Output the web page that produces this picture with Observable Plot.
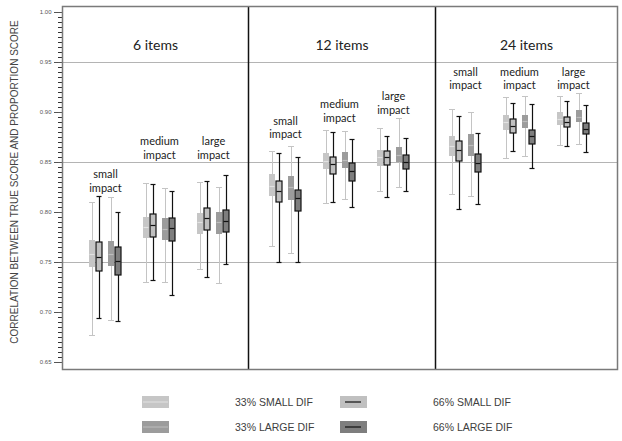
<!DOCTYPE html>
<html>
<head>
<meta charset="utf-8">
<script src="https://cdn.jsdelivr.net/npm/d3@7"></script>
<script src="https://cdn.jsdelivr.net/npm/@observablehq/plot@0.6"></script>
<style>
  html, body { margin: 0; padding: 0; background: white; overflow: hidden; }
  #chart { width: 622px; height: 380px; }
  #legend { position: relative; width: 622px; height: 61px; font-family: "Liberation Sans", Arial, sans-serif; font-size: 10.5px; color: #404040; }
  #legend .sw { position: absolute; }
  #legend .lb { position: absolute; line-height: 12px; white-space: nowrap; }
</style>
</head>
<body>
<div id="chart"></div>
<div id="legend"></div>
<script>
// ---- data ----
const items = ["6 items", "12 items", "24 items"];
const impacts = ["small", "medium", "large"];
const seriesNames = ["33% SMALL DIF", "66% SMALL DIF", "33% LARGE DIF", "66% LARGE DIF"];
const yTicks = [0.65, 0.70, 0.75, 0.80, 0.85, 0.90, 0.95, 1.00];
const gridLines = [0.75, 0.85, 0.95];
const yTitle = "CORRELATION BETWEEN TRUE SCORE AND PROPORTION SCORE";

// each entry: [lower whisker, Q1, median, Q3, upper whisker]
// order: 6 small, 6 medium, 6 large, 12 small, 12 medium, 12 large, 24 small, 24 medium, 24 large
const s33small = [
  [0.677, 0.745, 0.758, 0.772, 0.810],
  [0.730, 0.774, 0.785, 0.795, 0.829],
  [0.743, 0.778, 0.790, 0.799, 0.830],
  [0.766, 0.816, 0.826, 0.838, 0.861],
  [0.809, 0.843, 0.851, 0.859, 0.882],
  [0.821, 0.846, 0.855, 0.862, 0.884],
  [0.818, 0.856, 0.866, 0.876, 0.903],
  [0.854, 0.882, 0.890, 0.897, 0.915],
  [0.867, 0.887, 0.893, 0.900, 0.916]
];
const s66small = [
  [0.694, 0.741, 0.755, 0.770, 0.816],
  [0.732, 0.775, 0.787, 0.798, 0.828],
  [0.735, 0.782, 0.794, 0.804, 0.831],
  [0.750, 0.810, 0.821, 0.831, 0.859],
  [0.810, 0.838, 0.848, 0.855, 0.880],
  [0.815, 0.847, 0.855, 0.861, 0.876],
  [0.803, 0.851, 0.862, 0.871, 0.896],
  [0.861, 0.879, 0.886, 0.893, 0.909],
  [0.866, 0.885, 0.890, 0.895, 0.911]
];
const s33large = [
  [0.692, 0.746, 0.758, 0.771, 0.815],
  [0.730, 0.772, 0.783, 0.794, 0.824],
  [0.729, 0.778, 0.790, 0.800, 0.825],
  [0.759, 0.812, 0.825, 0.836, 0.866],
  [0.813, 0.844, 0.852, 0.860, 0.881],
  [0.825, 0.850, 0.857, 0.865, 0.894],
  [0.816, 0.856, 0.867, 0.878, 0.900],
  [0.856, 0.884, 0.891, 0.897, 0.916],
  [0.868, 0.890, 0.895, 0.902, 0.919]
];
const s66large = [
  [0.691, 0.737, 0.751, 0.765, 0.800],
  [0.717, 0.771, 0.784, 0.794, 0.821],
  [0.748, 0.780, 0.791, 0.802, 0.837],
  [0.750, 0.801, 0.814, 0.822, 0.855],
  [0.805, 0.831, 0.841, 0.849, 0.873],
  [0.821, 0.843, 0.850, 0.857, 0.874],
  [0.808, 0.840, 0.849, 0.858, 0.879],
  [0.844, 0.868, 0.876, 0.882, 0.908],
  [0.860, 0.878, 0.883, 0.889, 0.907]
];
// vertical position (value units) of each "impact" label, same order as above
const labelY = [0.832, 0.865, 0.865, 0.8855, 0.902, 0.910, 0.9345, 0.9345, 0.9345];

// ---- layout & styles ----
const seriesData = [s33small, s66small, s33large, s66large];
const panelBounds = [0, 186, 373, 555];
const groupStart = 30, panelStep = 180, impactStep = 54;
const offsets = [0, 7, 19, 26];
const styles = [
  {fill: "#c6c6c6", stroke: null,   med: "#e2e2e2", whisk: "#c4c4c4", sw: 1,   cap: 3},
  {fill: "#c0c0c0", stroke: "#111", med: "#111",    whisk: "#111",    sw: 1.2, cap: 2.5},
  {fill: "#9c9c9c", stroke: null,   med: "#bdbdbd", whisk: "#c4c4c4", sw: 1,   cap: 3},
  {fill: "#7e7e7e", stroke: "#111", med: "#111",    whisk: "#111",    sw: 1.2, cap: 2.5}
];
const half = 3;

const rows = [];
items.forEach((it, p) => impacts.forEach((im, i) => seriesData.forEach((arr, k) => {
  const v = arr[p * 3 + i];
  rows.push({p, i, k, pos: groupStart + p * panelStep + i * impactStep + offsets[k],
             lo: v[0], q1: v[1], med: v[2], q3: v[3], hi: v[4]});
})));
const labels = [];
items.forEach((it, p) => impacts.forEach((im, i) => {
  labels.push({text: im + "\nimpact", x: groupStart + p * panelStep + i * impactStep + (offsets[0] + offsets[3]) / 2, y: labelY[p * 3 + i]});
}));
const panelCenters = items.map((d, j) => (panelBounds[j] + panelBounds[j + 1]) / 2);
const minorTicks = d3.range(0, 71).map(j => 0.65 + j * 0.005);

const boxMarks = [];
styles.forEach((st, k) => {
  const data = rows.filter(r => r.k === k);
  boxMarks.push(
    Plot.ruleX(data, {x: "pos", y1: "lo", y2: "hi", stroke: st.whisk, strokeWidth: st.sw}),
    Plot.ruleY(data, {y: "hi", x1: d => d.pos - st.cap, x2: d => d.pos + st.cap, stroke: st.whisk, strokeWidth: st.sw}),
    Plot.ruleY(data, {y: "lo", x1: d => d.pos - st.cap, x2: d => d.pos + st.cap, stroke: st.whisk, strokeWidth: st.sw}),
    Plot.rect(data, {x1: d => d.pos - half, x2: d => d.pos + half, y1: "q1", y2: "q3", fill: st.fill,
                     stroke: st.stroke || "none", strokeWidth: 1.2}),
    Plot.ruleY(data, {y: "med", x1: d => d.pos - half + 0.5, x2: d => d.pos + half - 0.5, stroke: st.med, strokeWidth: 1.2})
  );
});

const chart = Plot.plot({
  width: 622, height: 380,
  marginLeft: 62, marginRight: 5, marginTop: 6, marginBottom: 11,
  x: {domain: [0, 555], axis: null},
  y: {domain: [0.643, 1.006]},
  style: {fontFamily: "'Liberation Sans', Arial, sans-serif", background: "white"},
  marks: [
    Plot.ruleY(gridLines, {stroke: "#b4b4b4", strokeWidth: 1.2}),
    Plot.axisY({ticks: minorTicks, tickSize: 4, tickFormat: () => "", label: null, color: "#333"}),
    Plot.axisY({ticks: yTicks, tickSize: 8, tickPadding: 3, tickFormat: d3.format(".2f"), fontSize: 6, label: null, color: "#555"}),
    ...boxMarks,
    Plot.text(items, {x: (d, j) => panelCenters[j], y: 0.967, text: d => d, fontSize: 14, fontFamily: "Lato", fill: "#222"}),
    Plot.text(labels, {x: "x", y: "y", text: "text", fontSize: 11, lineHeight: 1.25, fontFamily: "Lato", fill: "#222"}),
    Plot.text([yTitle], {frameAnchor: "left", textAnchor: "middle", dx: -48, dy: -6, rotate: -90, text: d => d, fontSize: 10, fill: "#444"}),
    Plot.ruleX(panelBounds.slice(1, 3), {stroke: "#111", strokeWidth: 1.5}),
    Plot.frame({stroke: "#7a7a7a", strokeWidth: 1.5})
  ]
});
document.getElementById("chart").appendChild(chart);

// ---- legend ----
const legendPos = [
  {sx: 142, lx: 235, top: 16},
  {sx: 340, lx: 433, top: 16},
  {sx: 142, lx: 235, top: 41},
  {sx: 340, lx: 433, top: 41}
];
const legendOrder = [0, 1, 2, 3];
const leg = d3.select("#legend");
legendOrder.forEach((k, j) => {
  const st = styles[k], lp = legendPos[j];
  const svg = leg.append("svg").attr("class", "sw").attr("width", 27).attr("height", 12)
    .style("left", lp.sx + "px").style("top", lp.top + "px");
  svg.append("rect").attr("width", 27).attr("height", 12).attr("fill", st.fill);
  if (st.stroke) svg.append("line").attr("x1", 5).attr("x2", 21).attr("y1", 6).attr("y2", 6).attr("stroke", st.med).attr("stroke-width", 1.2);
  else svg.append("line").attr("x1", 1).attr("x2", 26).attr("y1", 6).attr("y2", 6).attr("stroke", st.med).attr("stroke-width", 1);
  leg.append("div").attr("class", "lb").style("left", lp.lx + "px").style("top", lp.top + "px").text(seriesNames[k]);
});
</script>
</body>
</html>
